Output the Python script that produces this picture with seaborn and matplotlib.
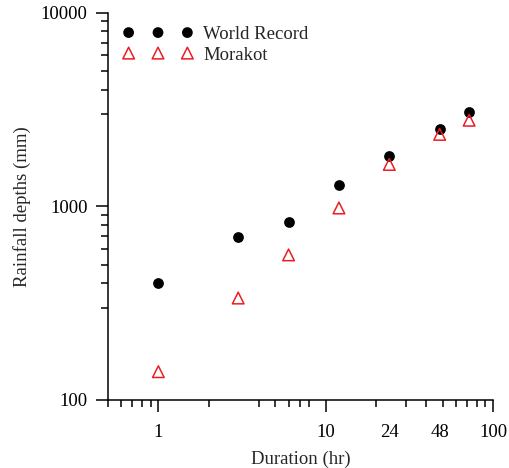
import matplotlib
matplotlib.use("Agg")
import matplotlib.pyplot as plt
import matplotlib.ticker as mticker
import seaborn as sns
import pandas as pd

# ---- data ----
durations = [1, 3, 6, 12, 24, 48, 72]
world_record = [403, 690, 834, 1280, 1815, 2515, 3060]
morakot = [140, 336, 561, 980, 1644, 2350, 2780]
series_names = ["World Record", "Morakot"]
x_tick_values = [1, 10, 24, 48, 100]
x_tick_labels = ["1", "10", "24", "48", "100"]
y_tick_values = [100, 1000, 10000]
y_tick_labels = ["100", "1000", "10000"]
x_minor = [0.5, 0.6, 0.7, 0.8, 0.9, 2, 4, 5, 6, 7, 8, 20, 30, 40, 50, 60, 70, 80, 90]
y_minor = [300, 400, 500, 600, 700, 800, 900, 3000, 4000, 5000, 6000, 7000, 8000, 9000]

df = pd.DataFrame({
    "Duration": durations * 2,
    "Depth": world_record + morakot,
    "Series": [series_names[0]] * len(durations) + [series_names[1]] * len(durations),
})

sns.set_style("ticks")
plt.rcParams["font.family"] = ["Liberation Serif", "DejaVu Serif"]

fig = plt.figure(figsize=(5.09, 4.68), dpi=100)
ax = fig.add_axes([108 / 509, 1 - 400 / 468, (493 - 108) / 509, (400 - 12.5) / 468])

red = "#ED1C24"
wr = df[df["Series"] == series_names[0]]
mk = df[df["Series"] == series_names[1]]
sns.scatterplot(data=wr, x="Duration", y="Depth", ax=ax, marker="o", s=60,
                color="black", edgecolor="black", linewidth=0, label=series_names[0], legend=False)
sns.scatterplot(data=mk, x="Duration", y="Depth", ax=ax, marker="^", s=70,
                facecolor="none", edgecolor=red, linewidth=1.1, label=series_names[1], legend=False)

ax.set_xscale("log")
ax.set_yscale("log")
ax.set_xlim(0.5, 100)
ax.set_ylim(100, 10000)

ax.xaxis.set_major_locator(mticker.FixedLocator(x_tick_values))
ax.xaxis.set_major_formatter(mticker.FixedFormatter(x_tick_labels))
ax.xaxis.set_minor_locator(mticker.FixedLocator(x_minor))
ax.xaxis.set_minor_formatter(mticker.NullFormatter())
ax.yaxis.set_major_locator(mticker.FixedLocator(y_tick_values))
ax.yaxis.set_major_formatter(mticker.FixedFormatter(y_tick_labels))
ax.yaxis.set_minor_locator(mticker.FixedLocator(y_minor))
ax.yaxis.set_minor_formatter(mticker.NullFormatter())

for sp in ["top", "right"]:
    ax.spines[sp].set_visible(False)
for sp in ["left", "bottom"]:
    ax.spines[sp].set_linewidth(1.1)
    ax.spines[sp].set_color("black")

ax.tick_params(axis="both", which="major", direction="out", length=8.6, width=1.1,
               color="black", labelsize=13.5, labelcolor="black")
ax.tick_params(axis="both", which="minor", direction="out", length=5, width=1.1, color="black")
ax.tick_params(axis="x", which="major", pad=9)
ax.tick_params(axis="y", which="major", pad=6)

for i, t in enumerate(ax.xaxis.get_major_ticks()):
    if x_tick_values[i] in (24, 48):
        t.tick1line.set_visible(False)

ax.set_xlabel("Duration (hr)", fontsize=13.5, labelpad=7)
ax.set_ylabel("Rainfall depths (mm)", fontsize=13.5, labelpad=7)

ax.legend(loc="upper left", bbox_to_anchor=(123 / 509, 1 - 26 / 468),
          bbox_transform=fig.transFigure, frameon=False, scatterpoints=3,
          scatteryoffsets=[0.5], handlelength=4.2 * 12 / 13.5, handletextpad=0.55,
          borderpad=0, borderaxespad=0, labelspacing=0.18, fontsize=13.5)

fig.savefig("out.png", dpi=100)
